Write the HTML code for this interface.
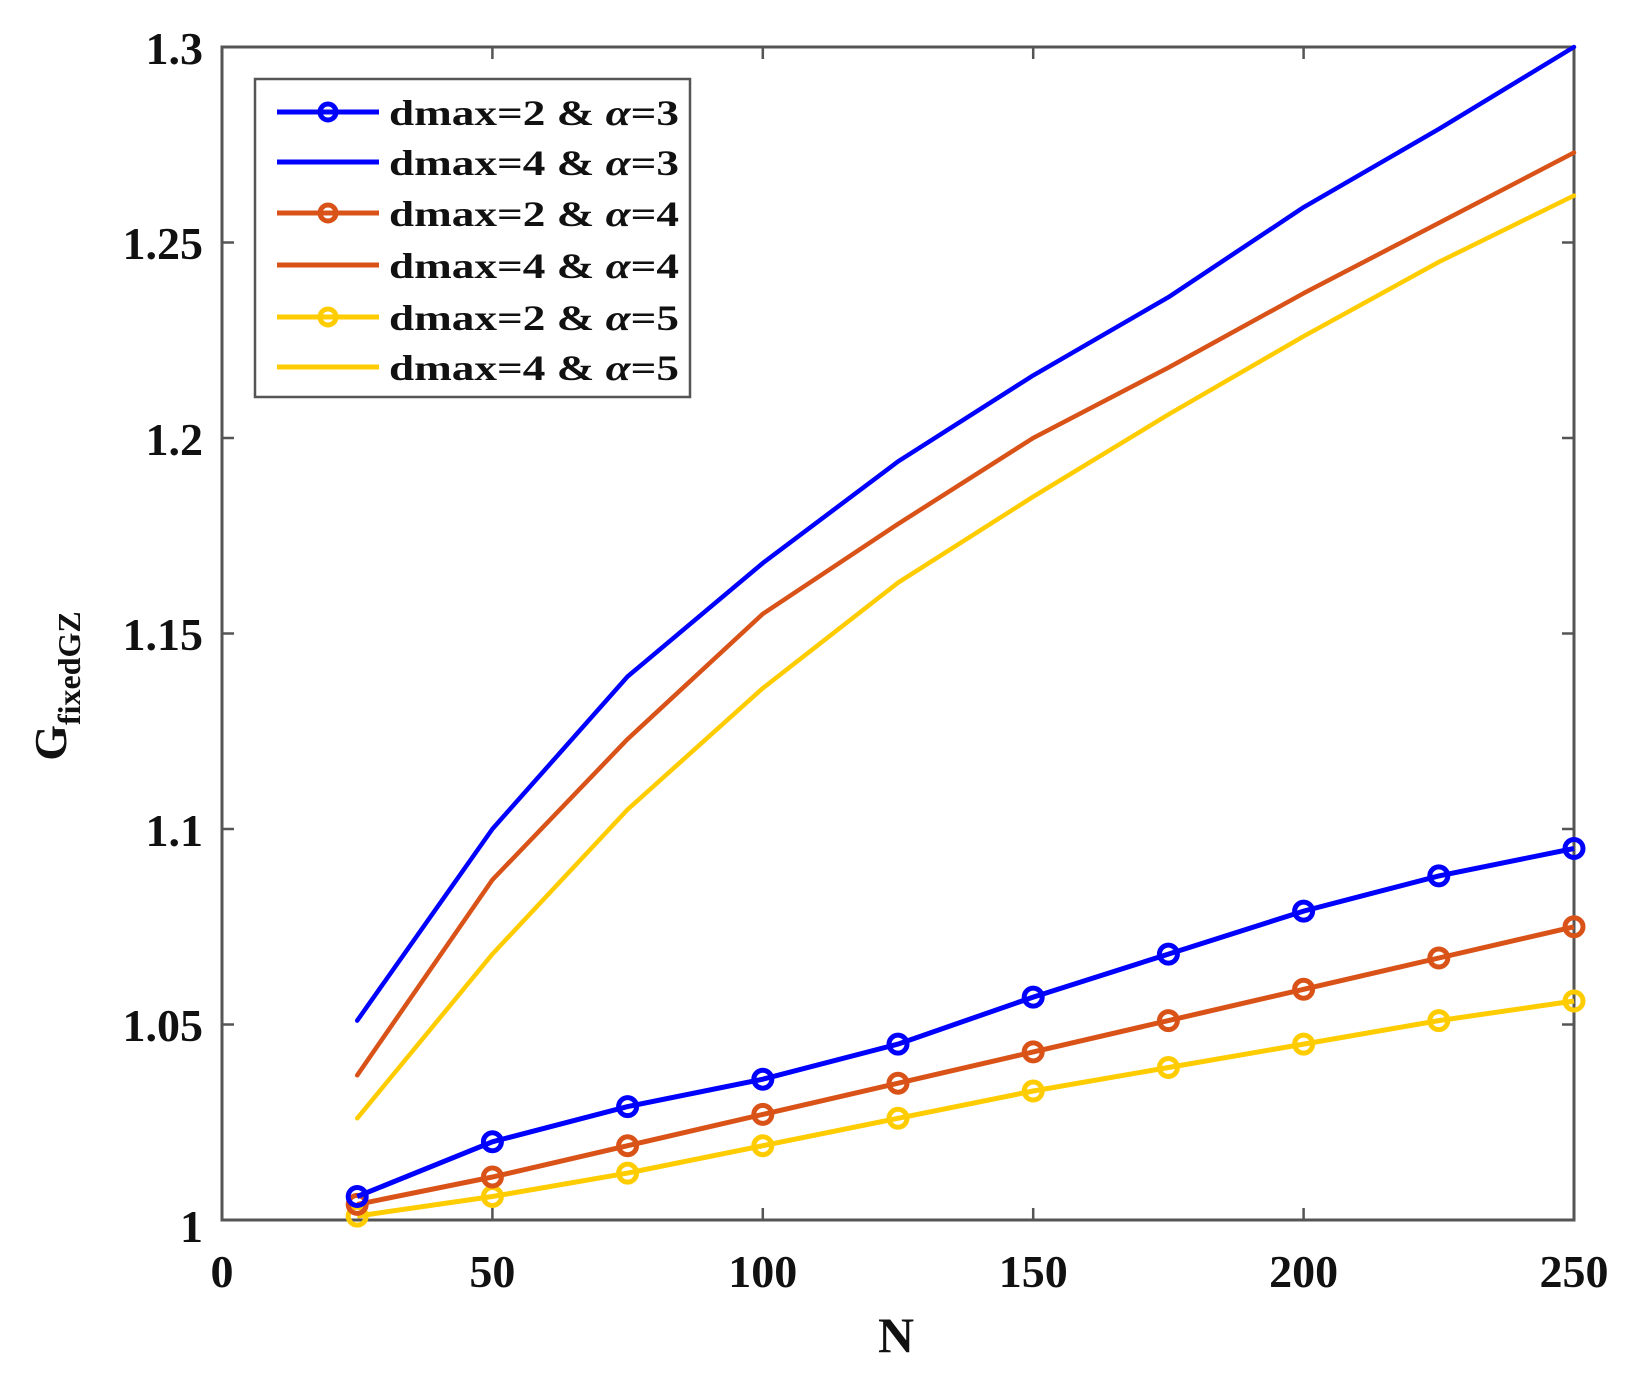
<!DOCTYPE html>
<html><head><style>
html,body{margin:0;padding:0;background:#fff;}
svg{display:block;}
text{font-family:"Liberation Serif",serif;font-weight:bold;fill:#111;}
</style></head><body>
<svg width="1630" height="1390" viewBox="0 0 1630 1390" xmlns="http://www.w3.org/2000/svg">
<rect x="0" y="0" width="1630" height="1390" fill="#fff"/>
<g stroke="#555" stroke-width="2.5">
<line x1="222" y1="242.5" x2="234" y2="242.5"/><line x1="1574" y1="242.5" x2="1562" y2="242.5"/>
<line x1="222" y1="438" x2="234" y2="438"/><line x1="1574" y1="438" x2="1562" y2="438"/>
<line x1="222" y1="633.5" x2="234" y2="633.5"/><line x1="1574" y1="633.5" x2="1562" y2="633.5"/>
<line x1="222" y1="829" x2="234" y2="829"/><line x1="1574" y1="829" x2="1562" y2="829"/>
<line x1="222" y1="1024.5" x2="234" y2="1024.5"/><line x1="1574" y1="1024.5" x2="1562" y2="1024.5"/>
<line x1="492.4" y1="1220" x2="492.4" y2="1208"/><line x1="492.4" y1="47" x2="492.4" y2="59"/>
<line x1="762.8" y1="1220" x2="762.8" y2="1208"/><line x1="762.8" y1="47" x2="762.8" y2="59"/>
<line x1="1033.2" y1="1220" x2="1033.2" y2="1208"/><line x1="1033.2" y1="47" x2="1033.2" y2="59"/>
<line x1="1303.6" y1="1220" x2="1303.6" y2="1208"/><line x1="1303.6" y1="47" x2="1303.6" y2="59"/>
</g>
<rect x="222" y="47" width="1352" height="1173" fill="none" stroke="#555" stroke-width="3"/>
<g font-size="46" text-anchor="end">
<text x="203" y="64">1.3</text>
<text x="203" y="259">1.25</text>
<text x="203" y="455">1.2</text>
<text x="203" y="650">1.15</text>
<text x="203" y="846">1.1</text>
<text x="203" y="1041">1.05</text>
<text x="203" y="1242">1</text>
</g>
<g font-size="46" text-anchor="middle">
<text x="222" y="1287">0</text>
<text x="492.4" y="1287">50</text>
<text x="762.8" y="1287">100</text>
<text x="1033.2" y="1287">150</text>
<text x="1303.6" y="1287">200</text>
<text x="1574" y="1287">250</text>
<text x="896" y="1352" font-size="50">N</text>
</g>
<text transform="translate(66,686) rotate(-90)" text-anchor="middle" font-size="46">G<tspan font-size="32" dy="14">fixedGZ</tspan></text>
<g fill="none" stroke-linejoin="round" stroke-linecap="round">
<polyline stroke="#0000ff" stroke-width="4.5" points="357.2,1020.6 492.4,829 627.6,676.5 762.8,563.1 898,461.5 1033.2,375.4 1168.4,297.2 1303.6,207.3 1438.8,129.1 1574,47"/>
<polyline stroke="#d95319" stroke-width="4.5" points="357.2,1075.3 492.4,879.8 627.6,739.1 762.8,613.9 898,524 1033.2,438 1168.4,367.6 1303.6,293.3 1438.8,223 1574,152.6"/>
<polyline stroke="#ffcc00" stroke-width="4.5" points="357.2,1118.3 492.4,954.1 627.6,809.5 762.8,688.2 898,582.7 1033.2,496.7 1168.4,414.5 1303.6,336.3 1438.8,262 1574,195.6"/>
</g>
<g fill="none" stroke-width="5">
<g stroke="#ffcc00">
<polyline points="357.2,1216.1 492.4,1196.5 627.6,1173.1 762.8,1145.7 898,1118.3 1033.2,1091 1168.4,1067.5 1303.6,1044.1 1438.8,1020.6 1574,1001"/>
<circle cx="357.2" cy="1216.1" r="9"/><circle cx="492.4" cy="1196.5" r="9"/><circle cx="627.6" cy="1173.1" r="9"/><circle cx="762.8" cy="1145.7" r="9"/><circle cx="898" cy="1118.3" r="9"/><circle cx="1033.2" cy="1091" r="9"/><circle cx="1168.4" cy="1067.5" r="9"/><circle cx="1303.6" cy="1044.1" r="9"/><circle cx="1438.8" cy="1020.6" r="9"/><circle cx="1574" cy="1001" r="9"/>
</g>
<g stroke="#d95319">
<polyline points="357.2,1204.4 492.4,1177 627.6,1145.7 762.8,1114.4 898,1083.2 1033.2,1051.9 1168.4,1020.6 1303.6,989.3 1438.8,958 1574,926.8"/>
<circle cx="357.2" cy="1204.4" r="9"/><circle cx="492.4" cy="1177" r="9"/><circle cx="627.6" cy="1145.7" r="9"/><circle cx="762.8" cy="1114.4" r="9"/><circle cx="898" cy="1083.2" r="9"/><circle cx="1033.2" cy="1051.9" r="9"/><circle cx="1168.4" cy="1020.6" r="9"/><circle cx="1303.6" cy="989.3" r="9"/><circle cx="1438.8" cy="958" r="9"/><circle cx="1574" cy="926.8" r="9"/>
</g>
<g stroke="#0000ff">
<polyline points="357.2,1196.5 492.4,1141.8 627.6,1106.6 762.8,1079.2 898,1044.1 1033.2,997.1 1168.4,954.1 1303.6,911.1 1438.8,875.9 1574,848.5"/>
<circle cx="357.2" cy="1196.5" r="9"/><circle cx="492.4" cy="1141.8" r="9"/><circle cx="627.6" cy="1106.6" r="9"/><circle cx="762.8" cy="1079.2" r="9"/><circle cx="898" cy="1044.1" r="9"/><circle cx="1033.2" cy="997.1" r="9"/><circle cx="1168.4" cy="954.1" r="9"/><circle cx="1303.6" cy="911.1" r="9"/><circle cx="1438.8" cy="875.9" r="9"/><circle cx="1574" cy="848.5" r="9"/>
</g>
</g>
<rect x="255" y="79" width="435" height="318" fill="#fff" stroke="#555" stroke-width="2.5"/>
<g stroke-width="5" fill="none">
<line x1="277" y1="112" x2="379" y2="112" stroke="#0000ff"/><circle cx="328" cy="112" r="8" stroke="#0000ff"/>
<line x1="277" y1="162" x2="379" y2="162" stroke="#0000ff"/>
<line x1="277" y1="213" x2="379" y2="213" stroke="#d95319"/><circle cx="328" cy="213" r="8" stroke="#d95319"/>
<line x1="277" y1="265" x2="379" y2="265" stroke="#d95319"/>
<line x1="277" y1="317" x2="379" y2="317" stroke="#ffcc00"/><circle cx="328" cy="317" r="8" stroke="#ffcc00"/>
<line x1="277" y1="367" x2="379" y2="367" stroke="#ffcc00"/>
</g>
<g font-size="36">
<text x="389" y="125" textLength="290" lengthAdjust="spacingAndGlyphs">dmax=2 &amp; <tspan font-style="italic">α</tspan>=3</text>
<text x="389" y="175" textLength="290" lengthAdjust="spacingAndGlyphs">dmax=4 &amp; <tspan font-style="italic">α</tspan>=3</text>
<text x="389" y="226" textLength="290" lengthAdjust="spacingAndGlyphs">dmax=2 &amp; <tspan font-style="italic">α</tspan>=4</text>
<text x="389" y="278" textLength="290" lengthAdjust="spacingAndGlyphs">dmax=4 &amp; <tspan font-style="italic">α</tspan>=4</text>
<text x="389" y="330" textLength="290" lengthAdjust="spacingAndGlyphs">dmax=2 &amp; <tspan font-style="italic">α</tspan>=5</text>
<text x="389" y="380" textLength="290" lengthAdjust="spacingAndGlyphs">dmax=4 &amp; <tspan font-style="italic">α</tspan>=5</text>
</g>
</svg>
</body></html>
